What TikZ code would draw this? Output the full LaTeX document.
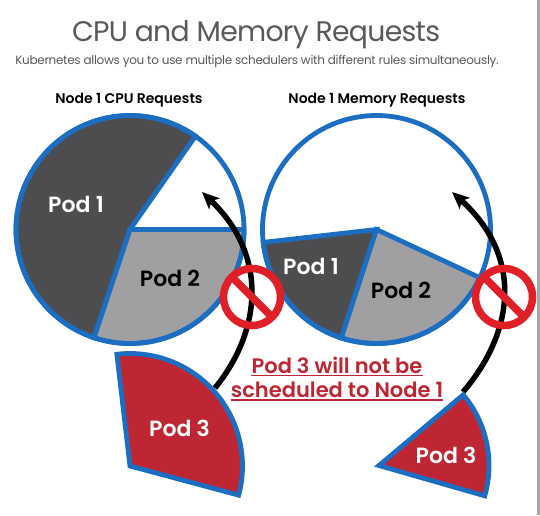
\documentclass[tikz,border=0pt]{standalone}
\usepackage{fontspec}
\setmainfont{Poppins}
\newfontfamily\podfont{Poppins SemiBold}
\newfontfamily\tightfont[LetterSpace=-2.5]{Poppins}
\usetikzlibrary{positioning,arrows.meta}
\definecolor{ringblue}{HTML}{1B6EC2}
\definecolor{poddark}{HTML}{4D4D4F}
\definecolor{podgray}{HTML}{A09FA2}
\definecolor{podred}{HTML}{BF2633}
\definecolor{signred}{HTML}{E01F26}
\definecolor{titlegray}{HTML}{58595B}
\tikzset{
  slice/.style={draw=ringblue, line width=4.8pt},
  nodering/.style={draw=ringblue, line width=4.8pt},
  blockarrow/.style={-{Stealth[length=17pt,width=15pt,inset=4pt]}, line width=5.5pt, black},
  signring/.style={draw=signred, line width=7.5pt},
  signbar/.style={draw=signred, line width=7.5pt},
  podlabel/.style={font=\podfont\fontsize{22}{26}\selectfont, inner sep=0pt},
  headlabel/.style={font=\podfont\fontsize{14}{17}\selectfont, inner sep=0pt, text=black},
  warnlabel/.style={font=\podfont\fontsize{21}{25}\selectfont, inner sep=0pt, text=podred},
  warnline/.style={draw=podred, line width=1.3pt}
}
\begin{document}
\begin{tikzpicture}[x=1pt, y=-1pt]
  \useasboundingbox (0,0) rectangle (540,515);
  \fill[white] (0,0) rectangle (540,515);
  \fill[gray!70] (537,0) rectangle (540,515);
  \node[font=\tightfont\fontsize{28.3}{34}\selectfont, text=titlegray, inner sep=0pt] (title) at (256,35) {CPU and Memory Requests};
  \node[font=\tightfont\fontsize{12}{16}\selectfont, text=titlegray, inner sep=0pt] (subtitle) at (257,61) {Kubernetes allows you to use multiple schedulers with different rules simultaneously.};
  \node[headlabel] (cpuhead) at (129,100.5) {Node 1 CPU Requests};
  \node[headlabel] (memhead) at (377,100.5) {Node 1 Memory Requests};

  \begin{scope}[shift={(130,229.5)}]
    \draw[slice, fill=poddark] (0,0) -- (-55:114) arc[start angle=-55, end angle=-251.6, radius=114] -- cycle;
    \draw[slice, fill=podgray] (0,0) -- (108.4:114) arc[start angle=108.4, end angle=0, radius=114] -- cycle;
  \end{scope}
  \node[nodering, circle, minimum size=228pt, inner sep=0pt] (cpuring) at (130,229.5) {};
  \begin{scope}[shift={(376.5,229.5)}]
    \draw[slice, fill=poddark] (0,0) -- (-186.5:114) arc[start angle=-186.5, end angle=-252, radius=114] -- cycle;
    \draw[slice, fill=podgray] (0,0) -- (108:114) arc[start angle=108, end angle=25, radius=114] -- cycle;
  \end{scope}
  \node[nodering, circle, minimum size=228pt, inner sep=0pt] (memring) at (376.5,229.5) {};
  \node[podlabel, text=white] (cpupodA) at (76,204.5) {Pod 1};
  \node[podlabel, text=black] (cpupodB) at (170,278) {Pod 2};
  \node[podlabel, text=white] (mempodA) at (311,266.5) {Pod 1};
  \node[podlabel, text=black] (mempodB) at (401,290) {Pod 2};

  \node[circle, fill=white, minimum size=58pt, inner sep=0pt] (cpusign) at (252,297) {};
  \node[circle, fill=white, minimum size=58pt, inner sep=0pt] (memsign) at (504,297) {};
  \coordinate (cpustart) at (215,388);
  \coordinate (cputip) at (202,192);
  \coordinate (memstart) at (463,392);
  \coordinate (memtip) at (452,192);
  \draw[blockarrow] (cpustart) .. controls (262,330) and (268,255) .. (cputip);
  \draw[blockarrow] (memstart) .. controls (516,330) and (522,255) .. (memtip);
  \node[signring, circle, minimum size=57pt, inner sep=0pt] at (cpusign) {};
  \node[signring, circle, minimum size=57pt, inner sep=0pt] at (memsign) {};
  \draw[signbar] (cpusign.135) -- (cpusign.-45);
  \draw[signbar] (memsign.135) -- (memsign.-45);

  \begin{scope}[shift={(130,466)}]
    \draw[slice, fill=podred] (0,0) -- (-96.7:112.5) arc[start angle=-96.7, end angle=15, radius=112.5] -- cycle;
  \end{scope}
  \begin{scope}[shift={(379,465.5)}]
    \draw[slice, fill=podred] (0,0) -- (-40:110) arc[start angle=-40, end angle=16, radius=110] -- cycle;
  \end{scope}
  \node[podlabel, text=white] (cpupodC) at (179.5,428) {Pod 3};
  \node[podlabel, text=white] (mempodC) at (446,455) {Pod 3};

  \node[warnlabel] (warnA) at (337,365) {Pod 3 will not be};
  \node[warnlabel] (warnB) at (337,390) {scheduled to Node 1};
  \draw[warnline] ([yshift=-2pt]warnA.south west) -- ([yshift=-2pt]warnA.south east);
  \draw[warnline] ([yshift=-2pt]warnB.south west) -- ([yshift=-2pt]warnB.south east);
\end{tikzpicture}
\end{document}
